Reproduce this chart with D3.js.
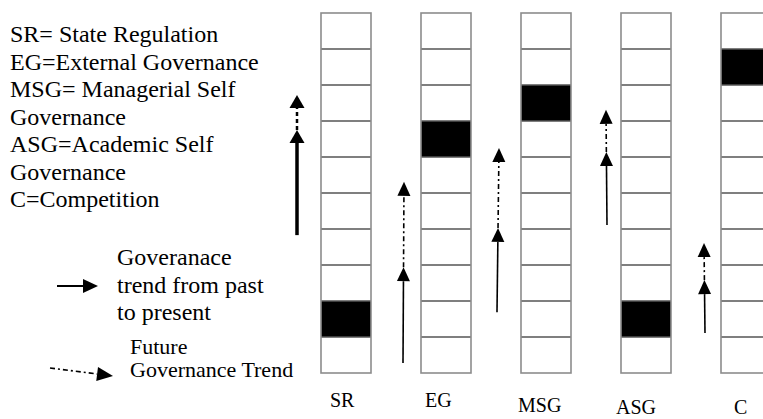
<!DOCTYPE html>
<html>
<head>
<meta charset="utf-8">
<script src="https://cdn.jsdelivr.net/npm/d3@7"></script>
<style>
  body { margin: 0; background: #fff; }
</style>
</head>
<body>
<div id="chart"></div>
<script>
// governance types, and the filled cell of each (counted from the bottom, 1..10)
var categories = ["SR", "EG", "MSG", "ASG", "C"];
var currentLevel = [2, 7, 8, 2, 9];
var cellCount = 10;

// trend arrow next to each column, in cell units: start (past), now (present), next (future)
var trendStart = [3.83, 0.28, 1.69, 4.11, 1.11];
var trendNow   = [6.75, 2.94, 4.03, 6.14, 2.58];
var trendNext  = [7.72, 5.31, 6.25, 7.31, 3.61];

var legendNames = ["SR= State Regulation", "EG=External Governance", "MSG= Managerial Self",
                   "Governance", "ASG=Academic Self", "Governance", "C=Competition"];
var solidLegend = ["Goveranace", "trend from past", "to present"];
var dashLegend = ["Future", "Governance Trend"];

var config = {
  width: 763,
  height: 419,
  font: "'Liberation Serif'",
  colWidth: 0.5,                              // in column units
  arrowDx0: [-0.24, -0.18, -0.24, -0.14, -0.16],  // arrow foot, relative to column left
  arrowDx1: [-0.24, -0.17, -0.22, -0.15, -0.17],  // arrow top
  arrowWidth: [3.5, 1.6, 1.6, 1.6, 1.6],
  labelDx: [9, 4, -3, -5, 13],
  labelY: [407, 407, 412, 414, 414]
};

var svg = d3.select("#chart").append("svg")
    .attr("width", config.width)
    .attr("height", config.height);

var x = d3.scaleLinear().domain([0, categories.length]).range([321, 821]);
var y = d3.scaleLinear().domain([0, cellCount]).range([373, 13]);

// draws a line ending in a filled triangular head
function arrow(g, x0, y0, x1, y1, opt) {
  var dx = x1 - x0, dy = y1 - y0;
  var len = Math.sqrt(dx * dx + dy * dy);
  var ux = dx / len, uy = dy / len;
  var bx = x1 - ux * opt.head, by = y1 - uy * opt.head;
  var line = g.append("line")
      .attr("x1", x0).attr("y1", y0)
      .attr("x2", bx).attr("y2", by)
      .attr("stroke", "#000")
      .attr("stroke-width", opt.width);
  if (opt.dash) line.attr("stroke-dasharray", opt.dash);
  var hw = opt.headW / 2;
  g.append("path")
      .attr("d", "M" + x1 + "," + y1 +
                 "L" + (bx - uy * hw) + "," + (by + ux * hw) +
                 "L" + (bx + uy * hw) + "," + (by - ux * hw) + "Z")
      .attr("fill", "#000");
}

// columns
var cols = svg.selectAll("g.col")
    .data(categories)
    .enter().append("g")
    .attr("class", "col");

cols.each(function(d, i) {
  var g = d3.select(this);
  var x0 = x(i), w = x(i + config.colWidth) - x(i);
  g.append("rect")
      .attr("x", x0).attr("y", y(cellCount))
      .attr("width", w).attr("height", y(0) - y(cellCount))
      .attr("fill", "#fff");
  g.append("rect")
      .attr("x", x0).attr("y", y(currentLevel[i]))
      .attr("width", w).attr("height", y(currentLevel[i] - 1) - y(currentLevel[i]))
      .attr("fill", "#000");
  g.selectAll("line.div")
      .data(d3.range(1, cellCount))
      .enter().append("line")
      .attr("x1", x0).attr("x2", x0 + w)
      .attr("y1", function(l) { return y(l); })
      .attr("y2", function(l) { return y(l); })
      .attr("stroke", "#555")
      .attr("stroke-width", 1.3);
  g.append("rect")
      .attr("x", x0).attr("y", y(cellCount))
      .attr("width", w).attr("height", y(0) - y(cellCount))
      .attr("fill", "none")
      .attr("stroke", "#8c8c8c")
      .attr("stroke-width", 1.6);
  g.append("text")
      .attr("x", x0 + config.labelDx[i])
      .attr("y", config.labelY[i])
      .style("font-family", config.font)
      .style("font-size", "20px")
      .text(d);
});

// trend arrows
var arrows = svg.append("g");
categories.forEach(function(d, i) {
  var xa = x(i + config.arrowDx0[i]), xb = x(i + config.arrowDx1[i]);
  var t = (trendNow[i] - trendStart[i]) / (trendNext[i] - trendStart[i]);
  var xm = xa + (xb - xa) * t;
  var thick = config.arrowWidth[i] > 2;
  arrow(arrows, xa, y(trendStart[i]), xm, y(trendNow[i]),
        { width: config.arrowWidth[i], head: thick ? 13 : 14, headW: thick ? 15 : 13 });
  arrow(arrows, xm, y(trendNow[i]), xb, y(trendNext[i]),
        { width: thick ? 2.5 : 1.6, head: thick ? 13 : 14, headW: thick ? 15 : 13,
          dash: thick ? "4,3" : "5,3,2,3" });
});

// legend: names
svg.append("g").selectAll("text")
    .data(legendNames)
    .enter().append("text")
    .attr("x", 10)
    .attr("y", function(d, i) { return 42 + i * 27.5; })
    .style("font-family", config.font)
    .style("font-size", "24px")
    .text(function(d) { return d; });

// legend: arrow types
var lg = svg.append("g");
arrow(lg, 57, 286, 98, 286, { width: 2, head: 15, headW: 14 });
lg.selectAll("text.solid")
    .data(solidLegend)
    .enter().append("text")
    .attr("x", 117)
    .attr("y", function(d, i) { return 265 + i * 27.5; })
    .style("font-family", config.font)
    .style("font-size", "24px")
    .text(function(d) { return d; });

arrow(lg, 50, 368, 113, 376, { width: 1.6, head: 16, headW: 14, dash: "5,3,2,3" });
lg.selectAll("text.dash")
    .data(dashLegend)
    .enter().append("text")
    .attr("x", 130)
    .attr("y", function(d, i) { return 354 + i * 23; })
    .style("font-family", config.font)
    .style("font-size", "22px")
    .text(function(d) { return d; });
</script>
</body>
</html>
